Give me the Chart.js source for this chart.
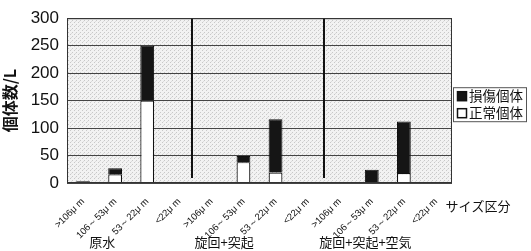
<!DOCTYPE html>
<html>
<head>
<meta charset="utf-8">
<script src="https://cdn.jsdelivr.net/npm/chart.js@4/dist/chart.umd.min.js"></script>
<style>
  body { margin: 0; background: #fff; }
  canvas { display: block; }
</style>
</head>
<body>
<canvas id="chart" width="531" height="251"></canvas>
<script>
const sizeLabels = ['>106μ m', '106～53μ m', '53～22μ m', '<22μ m'];
const groups = ['原水', '旋回+突起', '旋回+突起+空気'];
const categories = [...sizeLabels, ...sizeLabels, ...sizeLabels];
const normal  = [0, 16, 150, 0,   0, 38, 19, 0,   0, 0, 18, 0];
const damaged = [3, 11, 100, 0,   0, 11, 97, 0,   0, 24, 94, 0];
const yTicks = [0, 50, 100, 150, 200, 250, 300];

const jp = '"Noto Sans CJK JP", "Noto Sans", sans-serif';
const latin = '"Liberation Sans", Arial, sans-serif';

// light halftone look of the plot background
const tile = document.createElement('canvas');
tile.width = 4; tile.height = 4;
const tctx = tile.getContext('2d');
tctx.fillStyle = '#f2f2f2';
tctx.fillRect(0, 0, 4, 4);
tctx.fillStyle = '#c8c8c8';
tctx.fillRect(0, 0, 1, 1);
tctx.fillRect(2, 2, 1, 1);
tctx.fillStyle = '#dcdcdc';
tctx.fillRect(3, 1, 1, 1);

const decor = {
  id: 'decor',
  beforeDraw(chart) {
    const { ctx, chartArea: a } = chart;
    ctx.save();
    ctx.fillStyle = ctx.createPattern(tile, 'repeat');
    ctx.fillRect(a.left, a.top, a.right - a.left, a.bottom - a.top);
    ctx.restore();
  },
  afterDatasetsDraw(chart) {
    const { ctx, chartArea: a, scales } = chart;
    const x = scales.x;
    ctx.save();
    // group separators
    ctx.strokeStyle = '#111';
    ctx.lineWidth = 2;
    [3.4, 7.5].forEach(v => {
      const px = Math.round(x.getPixelForValue(v));
      ctx.beginPath();
      ctx.moveTo(px, a.top);
      ctx.lineTo(px, a.bottom - 5);
      ctx.stroke();
    });
    // plot frame
    ctx.lineWidth = 1;
    ctx.strokeStyle = '#333';
    ctx.strokeRect(a.left + 0.5, a.top + 0.5, a.right - a.left - 1, a.bottom - a.top - 1);
    ctx.restore();
  },
  afterDraw(chart) {
    const { ctx, chartArea: a, scales } = chart;
    const x = scales.x;
    ctx.save();
    ctx.fillStyle = '#111';
    ctx.font = '13px ' + jp;
    ctx.textAlign = 'center';
    ctx.textBaseline = 'middle';
    [0.6, 4.4, 8.8].forEach((v, i) => {
      ctx.fillText(groups[i], x.getPixelForValue(v), 242);
    });
    ctx.fillText('サイズ区分', a.right + 26, 206);

    // legend with frame
    const lx = a.right + 1, ly = a.top + 69, lw = 74, lh = 35;
    ctx.fillStyle = '#fff';
    ctx.fillRect(lx, ly, lw, lh);
    ctx.strokeStyle = '#555';
    ctx.lineWidth = 1;
    ctx.strokeRect(lx + 0.5, ly + 0.5, lw - 1, lh - 1);
    const items = [chart.data.datasets[1], chart.data.datasets[0]];
    items.forEach((ds, i) => {
      const cy = ly + 9 + i * 17;
      ctx.fillStyle = ds.backgroundColor;
      ctx.fillRect(lx + 4.5, cy - 4.5, 9, 9);
      ctx.strokeStyle = '#111';
      ctx.lineWidth = 1.5;
      ctx.strokeRect(lx + 4.5, cy - 4.5, 9, 9);
      ctx.fillStyle = '#111';
      ctx.textAlign = 'left';
      ctx.font = '13.5px ' + jp;
      ctx.fillText(ds.label, lx + 16, cy);
    });
    ctx.restore();
  }
};

new Chart(document.getElementById('chart'), {
  type: 'bar',
  data: {
    labels: categories,
    datasets: [
      { label: '正常個体', data: normal, backgroundColor: '#ffffff', borderColor: '#111', borderWidth: 1.2 },
      { label: '損傷個体', data: damaged, backgroundColor: '#151515', borderColor: '#111', borderWidth: 1 }
    ]
  },
  options: {
    responsive: false,
    animation: false,
    layout: { padding: { top: 13, right: 79, left: 0, bottom: 0 } },
    plugins: { legend: { display: false }, tooltip: { enabled: false } },
    datasets: { bar: { categoryPercentage: 1, barPercentage: 0.43 } },
    scales: {
      x: {
        stacked: true,
        grid: { display: false },
        border: { display: false },
        ticks: {
          autoSkip: false, minRotation: 45, maxRotation: 45,
          color: '#111', font: { family: latin, size: 9.5 }, padding: 5
        },
        afterFit(scale) { scale.height = 68; }
      },
      y: {
        stacked: true,
        min: 0, max: 300,
        afterBuildTicks(scale) { scale.ticks = yTicks.map(v => ({ value: v })); },
        grid: { color: '#444', lineWidth: 1, drawTicks: false },
        border: { display: false },
        ticks: { color: '#111', font: { family: latin, size: 17 }, padding: 8 },
        title: { display: true, text: '個体数/L', color: '#111', font: { family: jp, size: 16, weight: 'bold' }, padding: 0 },
        afterFit(scale) { scale.width = 67; }
      }
    }
  },
  plugins: [decor]
});
</script>
</body>
</html>
